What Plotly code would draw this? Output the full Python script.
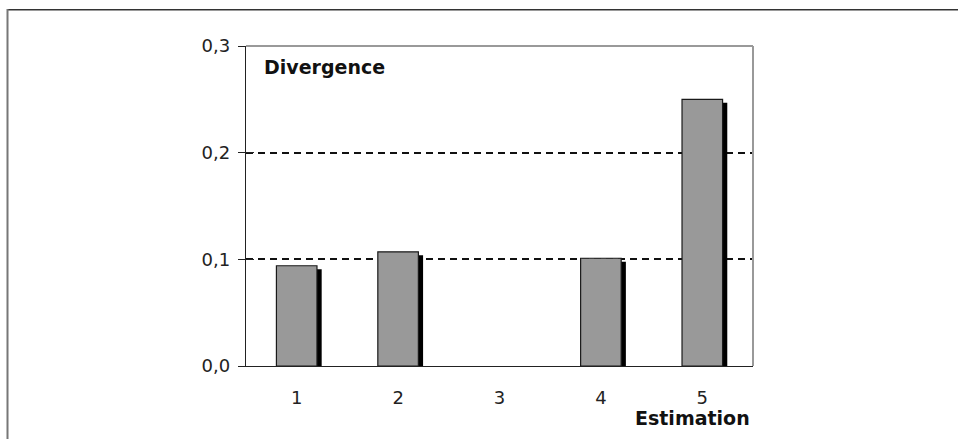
import plotly.graph_objects as go

# Divergence per estimation run
estimations = [1, 2, 3, 4, 5]
divergence = [0.094, 0.107, 0.0, 0.101, 0.250]
y_ticks = [0.0, 0.1, 0.2, 0.3]
y_tick_text = ["0,0", "0,1", "0,2", "0,3"]

FONT = "DejaVu Sans"
W, H = 958, 439
L, R, T, B = 246, 205, 46, 73
plot_w = W - L - R
plot_h = H - T - B

bar_w = 0.4
shadow_dx = 4.7 / (plot_w / 5)          # shadow shift to the right, in category units
shadow_dy = 3.5 / plot_h * 0.3          # shadow shift downward, in value units

fig = go.Figure()

# drop shadow (black), on an axis shifted slightly so it sits lower
fig.add_trace(go.Bar(
    x=estimations, y=divergence, xaxis="x", yaxis="y",
    width=bar_w, offset=-bar_w / 2 + shadow_dx,
    marker=dict(color="#000000", line=dict(width=0)),
    hoverinfo="skip", showlegend=False,
))

# main grey bars (no outline on empty bars)
outline_w = [1.2 if v > 0 else 0 for v in divergence]
fig.add_trace(go.Bar(
    x=estimations, y=divergence, xaxis="x", yaxis="y2",
    width=bar_w, offset=-bar_w / 2,
    marker=dict(color="#999999", line=dict(color="#1a1a1a", width=outline_w)),
    showlegend=False,
))

# empty trace so the inner tick axis gets drawn
fig.add_trace(go.Scatter(x=[], y=[], xaxis="x", yaxis="y3", showlegend=False,
                         hoverinfo="skip"))


def px_x(px):
    return (px - L) / plot_w


def px_y(py):
    return (H - B - py) / plot_h


shapes = [
    # grey top/right frame of the plot area
    dict(type="line", xref="paper", yref="paper", x0=0, x1=1, y0=1, y1=1,
         line=dict(color="#999999", width=2), layer="above"),
    dict(type="line", xref="paper", yref="paper", x0=1, x1=1, y0=0, y1=1,
         line=dict(color="#999999", width=2), layer="above"),
    # outer chart-area border
    dict(type="line", xref="paper", yref="paper", x0=px_x(7), x1=px_x(960),
         y0=px_y(9.5), y1=px_y(9.5), line=dict(color="#333333", width=1)),
    dict(type="line", xref="paper", yref="paper", x0=px_x(7), x1=px_x(960),
         y0=px_y(10.5), y1=px_y(10.5), line=dict(color="#9a9a9a", width=1)),
    dict(type="line", xref="paper", yref="paper", x0=px_x(7.5), x1=px_x(7.5),
         y0=px_y(9), y1=px_y(445), line=dict(color="#777777", width=2)),
]

annotations = [
    dict(text="<b>Divergence</b>", xref="paper", yref="paper",
         x=px_x(262), y=px_y(67), xanchor="left", yanchor="middle",
         showarrow=False, font=dict(family=FONT, size=19, color="#111111")),
    dict(text="<b>Estimation</b>", xref="paper", yref="paper",
         x=px_x(752), y=px_y(418), xanchor="right", yanchor="middle",
         showarrow=False, font=dict(family=FONT, size=19, color="#111111")),
]

fig.update_layout(
    width=W, height=H,
    margin=dict(l=L, r=R, t=T, b=B, pad=0),
    paper_bgcolor="white", plot_bgcolor="white",
    barmode="overlay",
    font=dict(family=FONT, size=18, color="#222222"),
    xaxis=dict(
        range=[0.5, 5.5], tickvals=estimations, ticktext=[str(e) for e in estimations],
        showgrid=False, zeroline=False, showline=True, linecolor="#222222", linewidth=1.3,
        ticks="", tickfont=dict(family=FONT, size=18, color="#222222"),
        ticklabelstandoff=15, layer="above traces",
    ),
    yaxis=dict(
        range=[shadow_dy, 0.3 + shadow_dy], visible=False, showgrid=False, zeroline=False,
    ),
    yaxis2=dict(
        overlaying="y", side="left", range=[0, 0.3],
        tickvals=y_ticks, ticktext=y_tick_text,
        showgrid=True, gridcolor="#111111", gridwidth=1.5, griddash="7px,5px",
        zeroline=False, showline=True, linecolor="#222222", linewidth=1.3,
        ticks="outside", ticklen=7, tickwidth=1.3, tickcolor="#222222",
        tickfont=dict(family=FONT, size=18, color="#222222"),
        ticklabelstandoff=4,
    ),
    yaxis3=dict(
        overlaying="y", side="left", range=[0, 0.3], tickvals=y_ticks,
        showgrid=False, zeroline=False, showline=False, showticklabels=False,
        ticks="inside", ticklen=8, tickwidth=1.3, tickcolor="#222222",
    ),
    shapes=shapes,
    annotations=annotations,
)

fig.write_html("out.html")
